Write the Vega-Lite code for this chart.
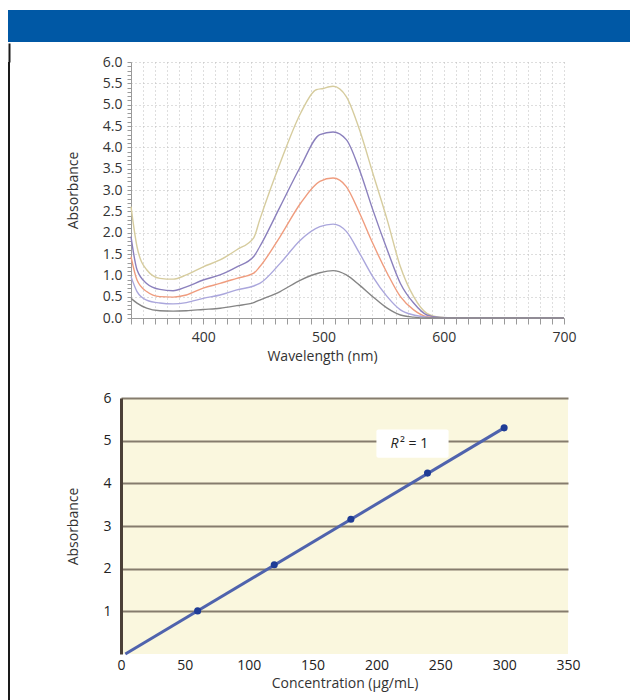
{
  "$schema": "https://vega.github.io/schema/vega-lite/v6.json",
  "padding": {"left": 8, "top": 10, "right": 0, "bottom": 0},
  "background": "white",
  "spacing": 0,
  "config": {
    "view": {"stroke": null},
    "font": "Open Sans",
    "axis": {"labelFont": "Open Sans", "titleFont": "Open Sans", "titleFontWeight": "normal", "labelColor": "#333333", "titleColor": "#333333"}
  },
  "datasets": {
    "spectra": [
      {"s": "A", "w": 340, "a": 2.61}, {"s": "A", "w": 345, "a": 1.67}, {"s": "A", "w": 353, "a": 1.13}, {"s": "A", "w": 364, "a": 0.93}, {"s": "A", "w": 375, "a": 0.91}, {"s": "A", "w": 386, "a": 1.01}, {"s": "A", "w": 400, "a": 1.2}, {"s": "A", "w": 414, "a": 1.36}, {"s": "A", "w": 428, "a": 1.6}, {"s": "A", "w": 442, "a": 1.88}, {"s": "A", "w": 447, "a": 2.3}, {"s": "A", "w": 464, "a": 3.63}, {"s": "A", "w": 481, "a": 4.8}, {"s": "A", "w": 494, "a": 5.35}, {"s": "A", "w": 500, "a": 5.38}, {"s": "A", "w": 505, "a": 5.42}, {"s": "A", "w": 508, "a": 5.43}, {"s": "A", "w": 519, "a": 5.19}, {"s": "A", "w": 530, "a": 4.41}, {"s": "A", "w": 541, "a": 3.4}, {"s": "A", "w": 553, "a": 2.3}, {"s": "A", "w": 564, "a": 1.2}, {"s": "A", "w": 575, "a": 0.5}, {"s": "A", "w": 586, "a": 0.11}, {"s": "A", "w": 597, "a": 0.02}, {"s": "A", "w": 610, "a": 0}, {"s": "A", "w": 700, "a": 0},
      {"s": "B", "w": 340, "a": 1.91}, {"s": "B", "w": 345, "a": 1.13}, {"s": "B", "w": 353, "a": 0.81}, {"s": "B", "w": 364, "a": 0.67}, {"s": "B", "w": 375, "a": 0.64}, {"s": "B", "w": 386, "a": 0.73}, {"s": "B", "w": 400, "a": 0.89}, {"s": "B", "w": 414, "a": 1.01}, {"s": "B", "w": 428, "a": 1.2}, {"s": "B", "w": 442, "a": 1.44}, {"s": "B", "w": 447, "a": 1.67}, {"s": "B", "w": 464, "a": 2.61}, {"s": "B", "w": 481, "a": 3.55}, {"s": "B", "w": 497, "a": 4.3}, {"s": "B", "w": 508, "a": 4.36}, {"s": "B", "w": 519, "a": 4.18}, {"s": "B", "w": 530, "a": 3.47}, {"s": "B", "w": 541, "a": 2.54}, {"s": "B", "w": 553, "a": 1.6}, {"s": "B", "w": 564, "a": 0.81}, {"s": "B", "w": 575, "a": 0.35}, {"s": "B", "w": 586, "a": 0.07}, {"s": "B", "w": 597, "a": 0.01}, {"s": "B", "w": 610, "a": 0}, {"s": "B", "w": 700, "a": 0},
      {"s": "C", "w": 340, "a": 1.44}, {"s": "C", "w": 345, "a": 0.89}, {"s": "C", "w": 353, "a": 0.62}, {"s": "C", "w": 364, "a": 0.5}, {"s": "C", "w": 375, "a": 0.49}, {"s": "C", "w": 386, "a": 0.54}, {"s": "C", "w": 400, "a": 0.7}, {"s": "C", "w": 414, "a": 0.81}, {"s": "C", "w": 428, "a": 0.93}, {"s": "C", "w": 442, "a": 1.05}, {"s": "C", "w": 447, "a": 1.2}, {"s": "C", "w": 464, "a": 1.91}, {"s": "C", "w": 481, "a": 2.69}, {"s": "C", "w": 497, "a": 3.2}, {"s": "C", "w": 508, "a": 3.28}, {"s": "C", "w": 519, "a": 3.08}, {"s": "C", "w": 530, "a": 2.46}, {"s": "C", "w": 541, "a": 1.75}, {"s": "C", "w": 553, "a": 1.05}, {"s": "C", "w": 564, "a": 0.5}, {"s": "C", "w": 575, "a": 0.19}, {"s": "C", "w": 586, "a": 0.03}, {"s": "C", "w": 597, "a": 0}, {"s": "C", "w": 700, "a": 0},
      {"s": "D", "w": 340, "a": 0.97}, {"s": "D", "w": 345, "a": 0.62}, {"s": "D", "w": 353, "a": 0.42}, {"s": "D", "w": 364, "a": 0.35}, {"s": "D", "w": 375, "a": 0.33}, {"s": "D", "w": 386, "a": 0.36}, {"s": "D", "w": 400, "a": 0.46}, {"s": "D", "w": 414, "a": 0.54}, {"s": "D", "w": 428, "a": 0.66}, {"s": "D", "w": 442, "a": 0.75}, {"s": "D", "w": 447, "a": 0.81}, {"s": "D", "w": 464, "a": 1.28}, {"s": "D", "w": 481, "a": 1.83}, {"s": "D", "w": 497, "a": 2.14}, {"s": "D", "w": 508, "a": 2.2}, {"s": "D", "w": 519, "a": 2.03}, {"s": "D", "w": 530, "a": 1.52}, {"s": "D", "w": 541, "a": 0.97}, {"s": "D", "w": 553, "a": 0.5}, {"s": "D", "w": 564, "a": 0.19}, {"s": "D", "w": 575, "a": 0.07}, {"s": "D", "w": 586, "a": 0.02}, {"s": "D", "w": 597, "a": 0}, {"s": "D", "w": 700, "a": 0},
      {"s": "E", "w": 340, "a": 0.46}, {"s": "E", "w": 345, "a": 0.35}, {"s": "E", "w": 353, "a": 0.23}, {"s": "E", "w": 364, "a": 0.17}, {"s": "E", "w": 375, "a": 0.16}, {"s": "E", "w": 386, "a": 0.17}, {"s": "E", "w": 400, "a": 0.2}, {"s": "E", "w": 414, "a": 0.23}, {"s": "E", "w": 428, "a": 0.29}, {"s": "E", "w": 442, "a": 0.36}, {"s": "E", "w": 447, "a": 0.42}, {"s": "E", "w": 464, "a": 0.62}, {"s": "E", "w": 481, "a": 0.89}, {"s": "E", "w": 497, "a": 1.06}, {"s": "E", "w": 508, "a": 1.11}, {"s": "E", "w": 519, "a": 1.01}, {"s": "E", "w": 530, "a": 0.77}, {"s": "E", "w": 541, "a": 0.5}, {"s": "E", "w": 553, "a": 0.23}, {"s": "E", "w": 564, "a": 0.07}, {"s": "E", "w": 575, "a": 0.02}, {"s": "E", "w": 586, "a": 0}, {"s": "E", "w": 700, "a": 0}
    ],
    "calib": [
      {"c": 60, "a": 1.01}, {"c": 120, "a": 2.09}, {"c": 180, "a": 3.16}, {"c": 240, "a": 4.24}, {"c": 300, "a": 5.3}
    ],
    "trend": [
      {"c": 3.4, "a": 0}, {"c": 300, "a": 5.3}
    ],
    "note": [
      {"x1": 200, "x2": 256.5, "y1": 4.6, "y2": 5.26, "r": "R", "tx": 211, "tx2": 218.5, "ty": 4.93}
    ]
  },
  "vconcat": [
    {
      "width": 622,
      "height": 32,
      "view": {"fill": "#0058a5", "stroke": null},
      "data": {"values": [{"t": ""}]},
      "mark": "text",
      "encoding": {"text": {"field": "t"}}
    },
    {
      "spacing": 56,
      "hconcat": [
        {
          "width": 2,
          "height": 638,
          "view": {"fill": "#1a1a1a", "stroke": null},
          "data": {"values": [{"edge": 1, "t": ""}]},
          "mark": "text",
          "encoding": {
            "text": {"field": "t"},
            "x": {
              "field": "edge", "type": "quantitative",
              "scale": {"domain": [0, 2], "nice": false, "zero": false},
              "axis": {"orient": "top", "values": [1], "labels": false, "domain": false, "grid": false, "title": null, "ticks": true, "tickSize": 19, "tickWidth": 2, "tickColor": "#1a1a1a"}
            }
          }
        },
        {
          "spacing": 28,
          "vconcat": [
            {
              "width": 443,
              "height": 256,
              "data": {"name": "spectra"},
              "mark": {"type": "line", "interpolate": "monotone", "strokeWidth": 1.4},
              "encoding": {
                "x": {
                  "field": "w", "type": "quantitative",
                  "scale": {"domain": [340, 700], "range": [10, 443], "nice": false, "zero": false},
                  "axis": {
                    "values": [340,350,360,370,380,390,400,410,420,430,440,450,460,470,480,490,500,510,520,530,540,550,560,570,580,590,600,610,620,630,640,650,660,670,680,690,700],
                    "labelExpr": "datum.value % 100 === 0 ? datum.label : ''",
                    "labelOverlap": false, "labelFlush": false,
                    "title": "Wavelength (nm)", "titleX": 201, "titleFontSize": 14, "titlePadding": 5,
                    "labelFontSize": 14, "labelPadding": 6,
                    "tickSize": 6, "tickColor": "#9a9a9a", "domainColor": "#9a9a9a",
                    "grid": true, "gridDash": [1, 3], "gridColor": "#bdbdbd", "gridWidth": 1
                  }
                },
                "y": {
                  "field": "a", "type": "quantitative",
                  "scale": {"domain": [0, 6], "nice": false},
                  "axis": {
                    "values": [0,0.1,0.2,0.3,0.4,0.5,0.6,0.7,0.8,0.9,1,1.1,1.2,1.3,1.4,1.5,1.6,1.7,1.8,1.9,2,2.1,2.2,2.3,2.4,2.5,2.6,2.7,2.8,2.9,3,3.1,3.2,3.3,3.4,3.5,3.6,3.7,3.8,3.9,4,4.1,4.2,4.3,4.4,4.5,4.6,4.7,4.8,4.9,5,5.1,5.2,5.3,5.4,5.5,5.6,5.7,5.8,5.9,6],
                    "labelExpr": "round(datum.value * 10) % 5 === 0 ? format(datum.value, '.1f') : ''",
                    "labelOverlap": false, "labelFlush": false,
                    "offset": -10,
                    "title": "Absorbance", "titleFontSize": 14, "titlePadding": 22,
                    "minExtent": 29, "maxExtent": 29,
                    "labelFontSize": 14, "labelPadding": 5,
                    "tickSize": 4, "tickColor": "#9a9a9a", "domainColor": "#9a9a9a",
                    "grid": true, "gridDash": [1, 3], "gridColor": "#bdbdbd", "gridWidth": 1,
                    "gridOpacity": {"condition": {"test": "round(datum.value * 10) % 5 === 0", "value": 1}, "value": 0}
                  }
                },
                "color": {
                  "field": "s", "type": "nominal",
                  "scale": {"domain": ["A", "B", "C", "D", "E"], "range": ["#d6cc9e", "#8b80bd", "#ef9c7e", "#aaa6dc", "#858585"]},
                  "legend": null
                }
              }
            },
            {
              "width": 447,
              "height": 256,
              "view": {"fill": "#faf7de", "stroke": null},
              "encoding": {
                "x": {
                  "field": "c", "type": "quantitative",
                  "scale": {"domain": [0, 350], "nice": false},
                  "axis": {
                    "values": [0, 50, 100, 150, 200, 250, 300, 350],
                    "title": "Concentration (µg/mL)", "titleFontSize": 14, "titlePadding": 4,
                    "labelFontSize": 14, "labelPadding": 4, "labelFlush": false, "labelColor": "#222222",
                    "ticks": false, "domain": false, "grid": false
                  }
                },
                "y": {
                  "field": "a", "type": "quantitative",
                  "scale": {"domain": [0, 6], "nice": false},
                  "axis": {
                    "values": [1, 2, 3, 4, 5, 6],
                    "title": "Absorbance", "titleFontSize": 14, "titlePadding": 21,
                    "minExtent": 20, "maxExtent": 20,
                    "labelFontSize": 14, "labelPadding": 10, "labelColor": "#222222",
                    "ticks": false, "domainColor": "#4b4037", "domainWidth": 3,
                    "grid": true, "gridColor": "#857c6d", "gridWidth": 2
                  }
                }
              },
              "layer": [
                {
                  "data": {"name": "trend"},
                  "mark": {"type": "line", "color": "#4f63ad", "strokeWidth": 3}
                },
                {
                  "data": {"name": "calib"},
                  "mark": {"type": "point", "filled": true, "color": "#1f3c96", "size": 50, "opacity": 1}
                },
                {
                  "data": {"name": "note"},
                  "mark": {"type": "rect", "color": "white", "cornerRadius": 2},
                  "encoding": {
                    "x": {"field": "x1", "type": "quantitative"},
                    "x2": {"field": "x2"},
                    "y": {"field": "y1", "type": "quantitative"},
                    "y2": {"field": "y2"}
                  }
                },
                {
                  "data": {"name": "note"},
                  "mark": {"type": "text", "align": "left", "baseline": "middle", "fontStyle": "italic", "fontSize": 14, "color": "#222222"},
                  "encoding": {
                    "x": {"field": "tx", "type": "quantitative"},
                    "y": {"field": "ty", "type": "quantitative"},
                    "text": {"field": "r"}
                  }
                },
                {
                  "data": {"name": "note"},
                  "mark": {"type": "text", "align": "left", "baseline": "middle", "fontSize": 14, "color": "#222222", "text": "\u00b2 = 1"},
                  "encoding": {
                    "x": {"field": "tx2", "type": "quantitative"},
                    "y": {"field": "ty", "type": "quantitative"}
                  }
                },
                {
                  "data": {"values": [{"edge": 350}]},
                  "mark": {"type": "rule", "color": "#9d968a", "strokeWidth": 2},
                  "encoding": {
                    "x": {"field": "edge", "type": "quantitative"},
                    "y": {"datum": 0},
                    "y2": {"datum": 6}
                  }
                }
              ]
            }
          ]
        }
      ]
    }
  ]
}
